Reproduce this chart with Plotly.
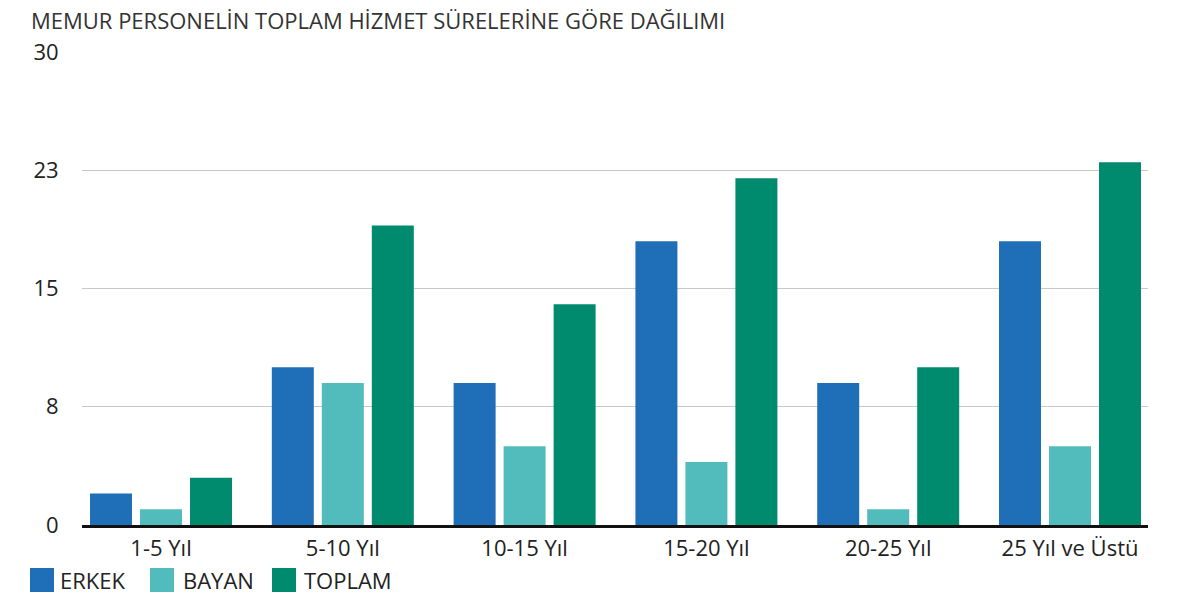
import plotly.graph_objects as go

categories = ["1-5 Yıl", "5-10 Yıl", "10-15 Yıl", "15-20 Yıl", "20-25 Yıl", "25 Yıl ve Üstü"]
erkek = [2, 10, 9, 18, 9, 18]
bayan = [1, 9, 5, 4, 1, 5]
toplam = [3, 19, 14, 22, 10, 23]
series_names = ["ERKEK", "BAYAN", "TOPLAM"]
colors = ["#1f6fb8", "#52bcbc", "#008a6e"]
y_tickvals = [0, 7.5, 15, 22.5, 30]
y_ticktext = ["0", "8", "15", "23", "30"]
title_text = "MEMUR PERSONELİN TOPLAM HİZMET SÜRELERİNE GÖRE DAĞILIMI"

FONT = "'Open Sans', sans-serif"
OFF = 8  # page body margin
W, H = 1183 - OFF, 594 - OFF
ml, mr, mt, mb = 82 - OFF, 35, 52 - OFF, 69

def px_x(x):
    x -= OFF
    return (x - ml) / (W - ml - mr)

def px_y(y):
    y -= OFF
    return (H - mb - y) / (H - mt - mb)

fig = go.Figure()
for name, vals, col in zip(series_names, [erkek, bayan, toplam], colors):
    fig.add_trace(go.Bar(x=categories, y=vals, name=name, marker_color=col,
                         marker_line_width=0, showlegend=False))

legend_items = [(30, 58), (150, 181), (272, 302)]
shapes = []
annotations = []
for (sx, tx), name, col in zip(legend_items, series_names, colors):
    shapes.append(dict(type="rect", xref="paper", yref="paper",
                       x0=px_x(sx), x1=px_x(sx + 24), y0=px_y(592), y1=px_y(568),
                       fillcolor=col, line_width=0))
    annotations.append(dict(text=name, xref="paper", yref="paper",
                            x=px_x(tx), y=px_y(580), xanchor="left", yanchor="middle",
                            showarrow=False, font=dict(family=FONT, size=22, color="#222")))

annotations.append(dict(text=title_text, xref="paper", yref="paper",
                        x=px_x(29), y=px_y(20), xanchor="left", yanchor="middle",
                        height=22, valign="middle",
                        showarrow=False, font=dict(family=FONT, size=22, color="#333")))

fig.update_layout(
    width=W, height=H,
    margin=dict(l=ml, r=mr, t=mt, b=mb),
    plot_bgcolor="white", paper_bgcolor="white",
    barmode="group", bargap=0.175, bargroupgap=0.16,
    font=dict(family=FONT, size=22, color="#222"),
    shapes=shapes, annotations=annotations,
    xaxis=dict(showline=True, linecolor="#111", linewidth=2.5, showgrid=False,
               range=[-0.4346, 5.429],
               ticks="outside", ticklen=2, tickcolor="rgba(0,0,0,0)",
               tickfont=dict(family=FONT, size=22, color="#222")),
    yaxis=dict(range=[0, 30], tickvals=y_tickvals, ticktext=y_ticktext,
               showgrid=True, gridcolor="#c8c8c8", gridwidth=1, zeroline=False,
               ticks="outside", ticklen=18, tickcolor="rgba(0,0,0,0)",
               tickfont=dict(family=FONT, size=22, color="#222")),
)

fig.write_html("out.html")
